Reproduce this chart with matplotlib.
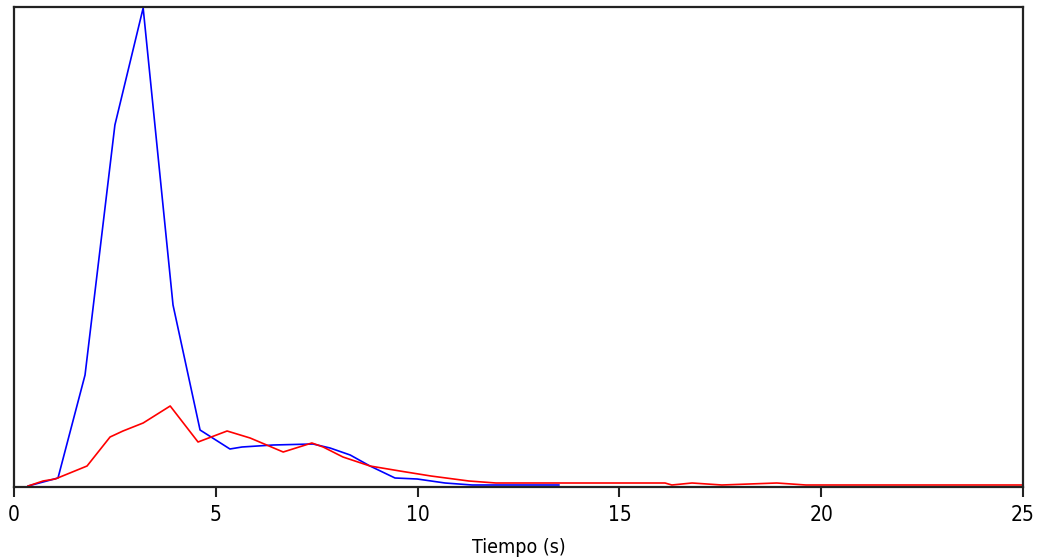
import matplotlib
matplotlib.use("Agg")
import matplotlib.pyplot as plt

# Serie azul (tiempo en s, valor)
t_azul = [0.35, 1.09, 1.76, 2.50, 3.20, 3.94, 4.61, 5.35, 5.65, 6.42, 7.41,
          7.83, 8.33, 8.82, 9.44, 9.99, 10.68, 11.35, 13.5]
v_azul = [1, 9, 112, 362, 479, 182, 57, 38, 40, 42, 43,
          39, 32, 21, 9, 8, 4, 2, 2]

# Serie roja
t_rojo = [0.35, 0.72, 1.02, 1.81, 2.38, 2.70, 3.20, 3.87, 4.56, 5.28, 5.85,
          6.67, 7.38, 7.66, 8.15, 8.82, 9.56, 10.33, 11.27, 11.94, 16.13,
          16.3, 16.8, 17.54, 18.9, 19.62, 25.0]
v_rojo = [1, 6, 8, 21, 50, 56, 64, 81, 45, 56, 49,
          35, 44, 40, 30, 21, 16, 11, 6, 4, 4,
          2, 4, 2, 4, 2, 2]

xticks = [0, 5, 10, 15, 20, 25]

fig = plt.figure(figsize=(10.41, 5.6), dpi=100)
ax = fig.add_axes([14 / 1041, 73 / 560, 1009 / 1041, 480 / 560])

ax.plot(t_azul, v_azul, color="#0000ff", lw=1.2)
ax.plot(t_rojo, v_rojo, color="#ff0000", lw=1.2)

ax.set_xlim(0, 25)
ax.set_ylim(0, 480)
ax.set_yticks([])
ax.set_xticks(xticks)
ax.set_xticklabels([str(x) for x in xticks], family="DejaVu Sans",
                   fontstretch="condensed", fontsize=15)
ax.tick_params(axis="x", length=7, width=1.5, pad=6, color="#222222")
ax.set_xlabel("Tiempo (s)", family="DejaVu Sans", fontstretch="condensed",
              fontsize=14, labelpad=9)
for s in ax.spines.values():
    s.set_linewidth(1.6)
    s.set_color("#222222")

fig.savefig("out.png", dpi=100)
